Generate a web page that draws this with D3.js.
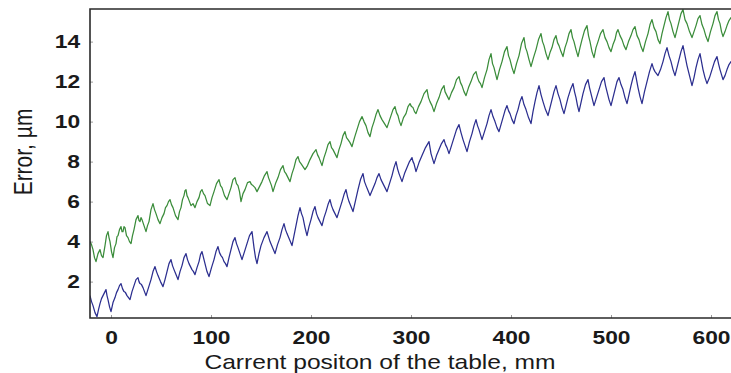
<!DOCTYPE html>
<html>
<head>
<meta charset="utf-8">
<script src="https://cdn.jsdelivr.net/npm/d3@7"></script>
<style>
  html, body { margin: 0; padding: 0; background: #fff; }
  svg { display: block; }
</style>
</head>
<body>
<div id="chart"></div>
<script>
// x ticks (mm) and y ticks (µm)
const xTicks = [0, 100, 200, 300, 400, 500, 600];
const yTicks = [2, 4, 6, 8, 10, 12, 14];

// green trace: [position mm, error µm]
const greenTrace = [
  [-21,4.0],[-19.5,3.85],[-18,3.6],[-16.5,3.2],[-15,3.0],[-13,3.4],[-11,3.6],[-9.5,3.3],[-8,3.2],[-7,3.5],
  [-6,3.8],[-4.5,4.3],[-3,4.5],[-2,4.2],[-1,4.0],[0.5,3.5],[2,3.2],[3.5,3.7],[5,3.9],[6,4.25],
  [7,4.3],[8.5,4.6],[10,4.75],[11,4.5],[12,4.5],[13,4.75],[14,4.7],[15.5,4.3],[17,4.2],[18.5,4.0],
  [20,3.9],[21.5,4.3],[23,4.6],[25,5.1],[27,5.3],[28,5.05],[29,5.0],[30,5.2],[31,5.1],[33,4.8],
  [35,4.5],[36.5,4.8],[38,5.0],[40,5.6],[42,5.9],[43.5,5.6],[45,5.4],[47,5.1],[49,4.9],[51,5.2],
  [53,5.4],[54.5,5.7],[56,5.8],[57.5,6.0],[59,6.1],[60.5,5.85],[62,5.7],[64.5,5.3],[67,5.1],[68.5,5.5],
  [70,5.7],[71.5,6.1],[73,6.3],[74,6.55],[75,6.6],[76,6.3],[77,6.2],[78.5,6.0],[80,5.8],[82,5.9],
  [84,5.7],[86,6.0],[88,6.2],[89.5,6.5],[91,6.6],[92.5,6.4],[94,6.3],[96.5,5.9],[99,5.8],[101,6.2],
  [103,6.5],[105.5,6.9],[108,7.1],[109.5,6.8],[111,6.7],[113.5,6.3],[116,6.1],[118,6.4],[120,6.7],[122,7.1],
  [124,7.2],[125.5,6.9],[127,6.8],[128.5,6.5],[130,6.0],[132,6.4],[134,6.6],[136.5,6.95],[139,7.0],[140.5,6.85],
  [142,6.8],[144,6.7],[146,6.5],[148.5,6.75],[151,7.0],[153.5,7.3],[156,7.5],[157.5,7.2],[159,7.0],[160.5,6.8],
  [162,6.5],[164.5,6.9],[167,7.2],[169.5,7.6],[172,7.8],[173.5,7.5],[175,7.4],[177,7.2],[179,7.0],[181,7.4],
  [183,7.7],[185,8.1],[187,8.25],[188.5,8.0],[190,7.9],[192,7.75],[194,7.6],[196.5,7.8],[199,8.1],[202,8.4],
  [205,8.6],[206.5,8.35],[208,8.2],[209.5,8.0],[211,7.8],[213,8.2],[215,8.5],[217,8.85],[219,9.0],[220.5,8.7],
  [222,8.6],[224,8.4],[226,8.2],[228,8.6],[230,8.9],[232,9.3],[234,9.5],[235.5,9.2],[237,9.1],[239,8.95],
  [241,8.75],[243.5,9.2],[246,9.6],[248.5,10.0],[251,10.25],[253,10.0],[255,9.8],[257,9.45],[259,9.25],[261,9.7],
  [263,10.0],[265,10.35],[267,10.6],[269,10.3],[271,10.1],[273.5,9.9],[276,9.7],[278,10.0],[280,10.3],[282,10.6],
  [284,10.75],[285.5,10.45],[287,10.3],[288.5,10.0],[290,9.8],[292.5,10.2],[295,10.4],[297,10.75],[299,10.9],[300.5,10.75],
  [302,10.7],[303.5,10.5],[305,10.4],[307.5,10.75],[310,11.0],[313,11.4],[316,11.6],[317.5,11.2],[319,11.0],[321,10.8],
  [323,10.5],[325.5,10.9],[328,11.2],[330.5,11.6],[333,11.8],[334,11.5],[335,11.4],[336.5,11.25],[338,11.1],[340.5,11.45],
  [343,11.7],[345.5,12.1],[348,12.25],[349.5,11.95],[351,11.8],[353,11.5],[355,11.3],[357.5,11.7],[360,12.0],[362.5,12.35],
  [365,12.5],[366.5,12.2],[368,12.0],[369.5,11.9],[371,11.7],[373.5,12.2],[376,12.6],[378,13.1],[380,13.4],[381.5,12.9],
  [383,12.7],[384.5,12.4],[386,12.1],[388.5,12.6],[391,13.0],[393.5,13.5],[396,13.75],[397.5,13.3],[399,13.1],[401,12.7],
  [403,12.4],[405.5,12.9],[408,13.3],[410.5,13.9],[413,14.2],[414.5,13.7],[416,13.5],[418,13.1],[420,12.75],[422.5,13.2],
  [425,13.6],[427.5,14.1],[430,14.4],[431.5,14.0],[433,13.8],[435,13.4],[437,13.1],[439,13.45],[441,13.7],[443,14.1],
  [445,14.3],[446.5,13.95],[448,13.8],[450,13.5],[452,13.25],[454,13.7],[456,14.0],[458,14.4],[460,14.6],[461.5,14.2],
  [463,14.0],[465,13.6],[467,13.25],[469,13.7],[471,14.1],[473.5,14.55],[476,14.8],[477.5,14.3],[479,14.0],[481,13.5],
  [483,13.2],[485,13.7],[487,14.0],[489.5,14.4],[492,14.6],[494,14.2],[496,14.0],[498,13.7],[500,13.5],[502,13.85],
  [504,14.1],[505.5,14.45],[507,14.6],[509,14.3],[511,14.1],[513,13.8],[515,13.6],[517.5,14.0],[520,14.3],[522,14.6],
  [524,14.75],[526,14.3],[528,14.1],[530,13.75],[532,13.5],[534.5,14.0],[537,14.4],[539,14.85],[541,15.1],[543,14.7],
  [545,14.5],[547,14.1],[549,13.9],[551,14.4],[553,14.8],[555,15.2],[557,15.5],[558.5,15.1],[560,14.9],[562,14.5],
  [564,14.2],[566,14.6],[568,15.0],[570,15.4],[572,15.6],[574,15.1],[576,14.9],[578.5,14.5],[581,14.2],[583,14.5],
  [585,14.8],[587,15.15],[589,15.3],[591,14.85],[593,14.6],[595,14.25],[597,14.0],[599.5,14.5],[602,14.9],[604,15.3],
  [606,15.5],[607.5,15.1],[609,14.9],[610.5,14.5],[612,14.25],[614,14.5],[616,14.8],[618,15.05],[620,15.2],[622,15.0],
  [624,15.0]
];

// blue trace
const blueTrace = [
  [-21,1.3],[-19.5,1.0],[-18,0.8],[-16,0.45],[-14,0.25],[-12.5,0.6],[-11,0.9],[-9.5,1.15],[-8,1.3],[-6.5,1.45],
  [-5,1.6],[-4,1.3],[-3,1.1],[-1.5,0.75],[0,0.5],[2,0.95],[4,1.2],[5.5,1.45],[7,1.6],[8.5,1.8],
  [10,1.9],[11.5,1.65],[13,1.5],[14.5,1.45],[16,1.3],[17.5,1.2],[19,1.1],[21,1.5],[23,1.8],[25,2.1],
  [27,2.2],[28,2.0],[29,1.9],[30.5,1.85],[32,1.7],[33.5,1.5],[35,1.3],[37.5,1.7],[40,2.1],[42,2.5],
  [44,2.75],[45.5,2.5],[47,2.3],[49.5,2.0],[52,1.75],[54,2.1],[56,2.5],[58,2.9],[60,3.1],[61.5,2.8],
  [63,2.6],[65,2.35],[67,2.1],[69,2.5],[71,2.8],[73,3.2],[75,3.4],[76.5,3.1],[78,2.9],[79.5,2.75],
  [81,2.6],[82.5,2.5],[84,2.35],[86,2.7],[88,3.0],[89.5,3.35],[91,3.5],[92.5,3.2],[94,2.9],[96,2.5],
  [98,2.25],[100.5,2.7],[103,3.1],[105,3.5],[107,3.75],[108.5,3.45],[110,3.3],[111.5,3.2],[113,3.0],[114.5,2.9],
  [116,2.75],[118,3.2],[120,3.6],[122,4.0],[124,4.2],[125.5,3.9],[127,3.7],[129,3.4],[131,3.1],[133.5,3.5],
  [136,3.9],[138.5,4.3],[141,4.5],[142,4.1],[143,3.7],[144.5,3.2],[146,2.9],[148,3.4],[150,3.8],[153,4.2],
  [156,4.5],[157.5,4.25],[159,4.0],[161.5,3.7],[164,3.4],[166.5,3.85],[169,4.2],[171,4.6],[173,4.9],[174.5,4.6],
  [176,4.4],[178.5,4.1],[181,3.8],[183,4.3],[185,4.8],[187,5.3],[189,5.7],[190.5,5.4],[192,5.2],[194,4.7],
  [196,4.3],[198,4.75],[200,5.1],[202,5.5],[204,5.75],[205.5,5.4],[207,5.2],[209,5.0],[211,4.8],[213,5.2],
  [215,5.5],[217,5.85],[219,6.1],[220.5,5.8],[222,5.6],[224,5.4],[226,5.2],[228.5,5.6],[231,6.0],[233,6.35],
  [235,6.6],[236.5,6.25],[238,6.0],[240,5.75],[242,5.5],[244.5,6.05],[247,6.6],[249.5,7.1],[252,7.4],[253.5,7.0],
  [255,6.8],[257,6.55],[259,6.3],[261.5,6.6],[264,6.9],[266,7.2],[268,7.4],[270,7.1],[272,6.9],[274,6.7],
  [276,6.5],[278.5,6.9],[281,7.3],[283,7.7],[285,8.0],[286.5,7.65],[288,7.4],[289.5,7.2],[291,7.0],[293.5,7.4],
  [296,7.7],[298.5,8.0],[301,8.2],[302,8.0],[303,7.9],[304,7.7],[305,7.5],[308,7.95],[311,8.3],[314.5,8.7],
  [318,9.0],[319,8.7],[320,8.4],[321.5,8.15],[323,7.9],[325.5,8.3],[328,8.6],[330.5,8.9],[333,9.1],[334.5,8.85],
  [336,8.7],[337,8.55],[338,8.4],[340.5,8.8],[343,9.2],[345.5,9.6],[348,9.85],[350,9.45],[352,9.1],[354,8.8],
  [356,8.5],[358.5,9.0],[361,9.4],[363,9.8],[365,10.1],[366.5,9.8],[368,9.6],[369.5,9.35],[371,9.1],[373.5,9.5],
  [376,9.9],[378,10.3],[380,10.6],[382,10.25],[384,10.0],[386,9.7],[388,9.5],[390,9.85],[392,10.2],[394,10.55],
  [396,10.8],[397.5,10.55],[399,10.4],[401,10.1],[403,9.9],[405,10.3],[407,10.6],[409,11.0],[411,11.25],[413,10.85],
  [415,10.6],[417.5,10.2],[420,9.9],[422,10.5],[424,11.0],[426,11.45],[428,11.8],[430,11.35],[432,11.0],[434.5,10.6],
  [437,10.3],[439,10.7],[441,11.1],[443,11.5],[445,11.8],[447,11.4],[449,11.1],[451,10.7],[453,10.4],[455,10.8],
  [457,11.2],[459.5,11.6],[462,11.9],[463.5,11.5],[465,11.2],[466.5,10.8],[468,10.5],[470,10.95],[472,11.4],[474.5,11.85],
  [477,12.1],[478.5,11.7],[480,11.4],[481.5,11.1],[483,10.8],[485.5,11.2],[488,11.6],[490.5,12.0],[493,12.2],[494.5,11.8],
  [496,11.5],[498,11.1],[500,10.8],[502,11.2],[504,11.6],[506,12.0],[508,12.2],[510,11.85],[512,11.6],[514,11.2],
  [516,10.9],[518,11.35],[520,11.8],[522,12.2],[524,12.5],[525.5,12.1],[527,11.7],[529,11.25],[531,10.9],[533.5,11.5],
  [536,12.0],[538.5,12.5],[541,12.9],[542.5,12.65],[544,12.5],[545.5,12.4],[547,12.3],[549.5,12.6],[552,13.0],[554,13.4],
  [556,13.7],[558,13.3],[560,13.0],[562,12.6],[564,12.3],[566,12.7],[568,13.1],[570,13.5],[572,13.8],[574,13.3],
  [576,12.8],[578.5,12.3],[581,11.8],[583,12.2],[585,12.7],[587,13.1],[589,13.4],[590.5,13.0],[592,12.6],[594,12.2],
  [596,11.9],[598.5,12.2],[601,12.6],[603.5,13.0],[606,13.25],[607.5,12.9],[609,12.6],[610.5,12.35],[612,12.1],[614,12.3],
  [616,12.6],[618,12.85],[620,13.0],[622,13.1],[624,13.2]
];

const width = 731, height = 373;
const margins = {top: 9, right: -4, bottom: 55, left: 90};
const stretch = 1.2; // the reference's type is wider than Arial

const svg = d3.select("#chart")
  .append("svg")
  .attr("width", width)
  .attr("height", height)
  .style("font-family", "Arial, 'Liberation Sans', Helvetica, sans-serif");

const x = d3.scaleLinear()
  .domain([-21, 624])
  .range([margins.left, width - margins.right]);

const y = d3.scaleLinear()
  .domain([0.18, 15.63])
  .range([height - margins.bottom, margins.top]);

svg.append("clipPath")
    .attr("id", "plot-clip")
  .append("rect")
    .attr("x", margins.left)
    .attr("y", margins.top)
    .attr("width", width - margins.right - margins.left)
    .attr("height", height - margins.bottom - margins.top);

// Y axis (ticks point inward)
const yAxis = svg.append("g")
  .attr("transform", `translate(${margins.left},0)`)
  .call(d3.axisLeft(y).tickValues(yTicks).tickSize(-3).tickPadding(8.3));
yAxis.select(".domain").remove();
yAxis.selectAll(".tick line").attr("stroke", "#999");
yAxis.selectAll(".tick text")
  .attr("transform", `scale(${stretch},1)`)
  .style("font-size", "19px")
  .style("font-weight", "bold")
  .attr("fill", "#1a1a1a");

// X axis
const xAxis = svg.append("g")
  .attr("transform", `translate(0,${height - margins.bottom})`)
  .call(d3.axisBottom(x).tickValues(xTicks).tickSize(-3).tickPadding(13));
xAxis.select(".domain").remove();
xAxis.selectAll(".tick line").attr("stroke", "#999");
xAxis.selectAll(".tick text")
  .attr("transform", `scale(${stretch},1)`)
  .style("font-size", "19px")
  .style("font-weight", "bold")
  .attr("fill", "#1a1a1a");

// Lines
const line = d3.line()
  .x(d => x(d[0]))
  .y(d => y(d[1]));

const plot = svg.append("g").attr("clip-path", "url(#plot-clip)");

plot.append("path")
  .datum(greenTrace)
  .attr("fill", "none")
  .attr("stroke", "#3a8c3a")
  .attr("stroke-width", 1.25)
  .attr("stroke-linejoin", "round")
  .attr("d", line);

plot.append("path")
  .datum(blueTrace)
  .attr("fill", "none")
  .attr("stroke", "#2b2e8f")
  .attr("stroke-width", 1.25)
  .attr("stroke-linejoin", "round")
  .attr("d", line);

// Frame: left, top and bottom edges (the right one is cut off)
const x0 = margins.left, x1 = width + 2;
const yTop = margins.top, yBot = height - margins.bottom;
svg.append("path")
  .attr("d", `M${x1},${yTop}H${x0}V${yBot}H${x1}`)
  .attr("fill", "none")
  .attr("stroke", "#2a2a2a")
  .attr("stroke-width", 1.6);

// Axis titles
svg.append("text")
  .attr("transform", `translate(380,369) scale(${stretch},1)`)
  .attr("text-anchor", "middle")
  .style("font-size", "20.5px")
  .attr("fill", "#1a1a1a")
  .text("Carrent positon of the table, mm");

svg.append("text")
  .attr("transform", `translate(32,152) scale(${stretch},1) rotate(-90)`)
  .attr("text-anchor", "middle")
  .style("font-size", "21px")
  .attr("fill", "#1a1a1a")
  .text("Error, µm");
</script>
</body>
</html>
